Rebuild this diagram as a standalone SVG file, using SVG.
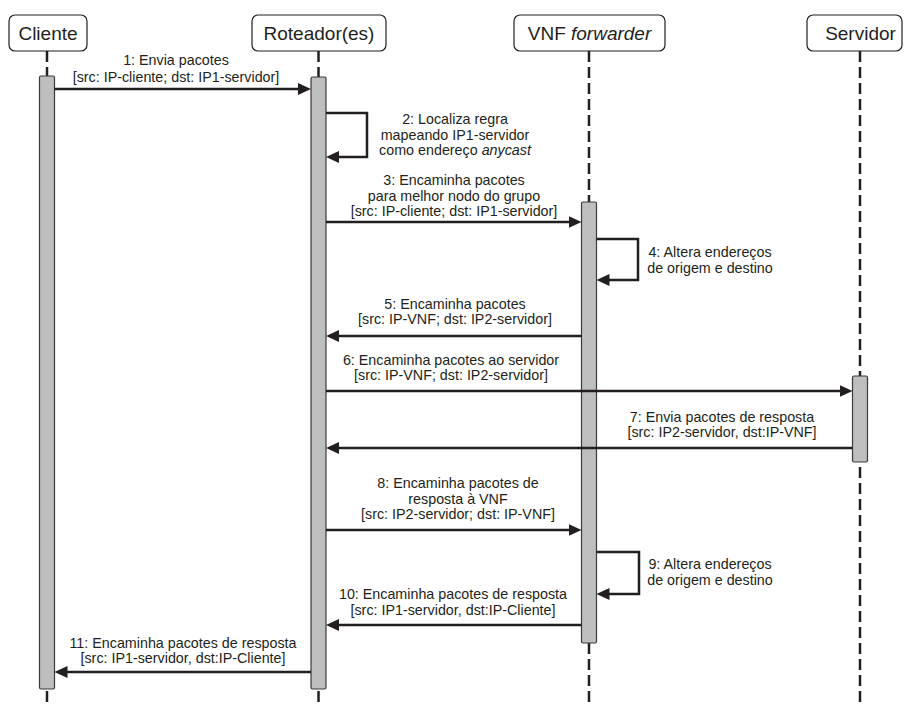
<svg xmlns="http://www.w3.org/2000/svg" width="904" height="704" viewBox="0 0 904 704">
  <style>
    .box { fill: #ffffff; stroke: #231f20; stroke-width: 1.2; }
    .hdr { font-family: "Liberation Sans", Arial, sans-serif; font-size: 19px; fill: #231f20; text-anchor: middle; }
    .life { stroke: #231f20; stroke-width: 2.5; stroke-dasharray: 11 5; fill: none; }
    .bar { fill: #bcbec0; stroke: #3a3a3a; stroke-width: 1.2; }
    .msg { stroke: #231f20; stroke-width: 2.5; fill: none; }
    .lbl { font-family: "Liberation Sans", Arial, sans-serif; font-size: 14.3px; fill: #231f20; text-anchor: middle; }
  </style>
  <defs>
    <marker id="ah" markerUnits="userSpaceOnUse" markerWidth="13" markerHeight="12" refX="7" refY="6" orient="auto">
      <path d="M0,0 L13,6 L0,12 z" fill="#231f20"/>
    </marker>
  </defs>
  <rect width="904" height="704" fill="#ffffff"/>

  <g id="cliente">
    <rect class="box" x="9" y="15" width="78" height="36" rx="6"/>
    <text class="hdr" x="48" y="40">Cliente</text>
    <line class="life" x1="47" y1="51" x2="47" y2="704"/>
    <rect class="bar" x="39.5" y="76" width="15" height="613" rx="1.5"/>
  </g>
  <g id="roteador">
    <rect class="box" x="252" y="15" width="134" height="36" rx="6"/>
    <text class="hdr" x="319" y="40">Roteador(es)</text>
    <line class="life" x1="318.5" y1="51" x2="318.5" y2="704"/>
    <rect class="bar" x="311" y="77" width="15" height="612" rx="1.5"/>
  </g>
  <g id="vnf">
    <rect class="box" x="514" y="15" width="151" height="36" rx="6"/>
    <text class="hdr" x="589.5" y="40">VNF <tspan font-style="italic">forwarder</tspan></text>
    <line class="life" x1="589" y1="51" x2="589" y2="704"/>
    <rect class="bar" x="581.5" y="202" width="15" height="441" rx="1.5"/>
  </g>
  <g id="servidor">
    <rect class="box" x="807" y="15" width="95" height="36" rx="6"/>
    <text class="hdr" x="860.5" y="40">Servidor</text>
    <line class="life" x1="860" y1="51" x2="860" y2="704"/>
    <rect class="bar" x="852.5" y="376" width="15" height="86" rx="1.5"/>
  </g>

  <g id="connectors">
    <line class="msg" x1="54.5" y1="89" x2="305" y2="89" marker-end="url(#ah)"/>
    <polyline class="msg" points="326,113 367,113 367,157 332,157" marker-end="url(#ah)"/>
    <line class="msg" x1="326" y1="222" x2="575.5" y2="222" marker-end="url(#ah)"/>
    <polyline class="msg" points="596.5,239 638,239 638,280 602.5,280" marker-end="url(#ah)"/>
    <line class="msg" x1="581.5" y1="336" x2="332" y2="336" marker-end="url(#ah)"/>
    <line class="msg" x1="326" y1="391" x2="846.5" y2="391" marker-end="url(#ah)"/>
    <line class="msg" x1="852.5" y1="448" x2="332" y2="448" marker-end="url(#ah)"/>
    <line class="msg" x1="326" y1="530" x2="575.5" y2="530" marker-end="url(#ah)"/>
    <polyline class="msg" points="596.5,552 639,552 639,594 602.5,594" marker-end="url(#ah)"/>
    <line class="msg" x1="581.5" y1="625" x2="332" y2="625" marker-end="url(#ah)"/>
    <line class="msg" x1="311" y1="672" x2="60.5" y2="672" marker-end="url(#ah)"/>
  </g>

  <g id="labels">
    <text class="lbl" x="176" y="65">1: Envia pacotes</text>
    <text class="lbl" x="176" y="81.5">[src: IP-cliente; dst: IP1-servidor]</text>

    <text class="lbl" x="455" y="124">2: Localiza regra</text>
    <text class="lbl" x="455" y="139.5">mapeando IP1-servidor</text>
    <text class="lbl" x="455" y="155">como endereço <tspan font-style="italic">anycast</tspan></text>

    <text class="lbl" x="454" y="185">3: Encaminha pacotes</text>
    <text class="lbl" x="454" y="200.5">para melhor nodo do grupo</text>
    <text class="lbl" x="454" y="216">[src: IP-cliente; dst: IP1-servidor]</text>

    <text class="lbl" x="710" y="257">4: Altera endereços</text>
    <text class="lbl" x="710" y="272.5">de origem e destino</text>

    <text class="lbl" x="455" y="308.5">5: Encaminha pacotes</text>
    <text class="lbl" x="455" y="324">[src: IP-VNF; dst: IP2-servidor]</text>

    <text class="lbl" x="451" y="364.5">6: Encaminha pacotes ao servidor</text>
    <text class="lbl" x="451" y="380">[src: IP-VNF; dst: IP2-servidor]</text>

    <text class="lbl" x="722" y="421.5">7: Envia pacotes de resposta</text>
    <text class="lbl" x="722" y="437">[src: IP2-servidor, dst:IP-VNF]</text>

    <text class="lbl" x="458" y="488">8: Encaminha pacotes de</text>
    <text class="lbl" x="458" y="503.5">resposta à VNF</text>
    <text class="lbl" x="458" y="519">[src: IP2-servidor; dst: IP-VNF]</text>

    <text class="lbl" x="710" y="569">9: Altera endereços</text>
    <text class="lbl" x="710" y="584.5">de origem e destino</text>

    <text class="lbl" x="453" y="599">10: Encaminha pacotes de resposta</text>
    <text class="lbl" x="453" y="614.5">[src: IP1-servidor, dst:IP-Cliente]</text>

    <text class="lbl" x="183" y="647.5">11: Encaminha pacotes de resposta</text>
    <text class="lbl" x="183" y="663">[src: IP1-servidor, dst:IP-Cliente]</text>
  </g>
</svg>
